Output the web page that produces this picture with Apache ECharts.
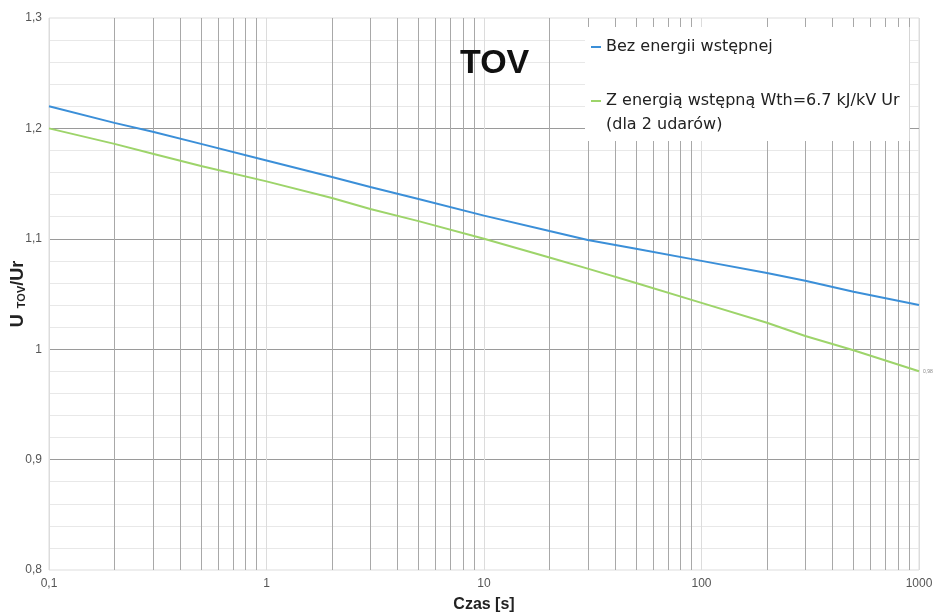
<!DOCTYPE html>
<html>
<head>
<meta charset="utf-8">
<script src="https://cdn.jsdelivr.net/npm/echarts@6/dist/echarts.min.js"></script>
<style>
  html, body { margin: 0; padding: 0; background: #fff; }
  #chart { width: 933px; height: 612px; }
</style>
</head>
<body>
<div id="chart"></div>
<script>
// czas [s]
const times = [0.1, 0.2, 0.3, 0.5, 1, 2, 3, 5, 10, 20, 30, 50, 100, 200, 300, 500, 1000];
// Bez energii wstępnej
const bezEnergii = [1.220, 1.205, 1.197, 1.186, 1.171, 1.156, 1.147, 1.136, 1.121, 1.107, 1.099, 1.091, 1.080, 1.069, 1.062, 1.052, 1.040];
// Z energią wstępną
const zEnergia = [1.200, 1.186, 1.177, 1.166, 1.152, 1.137, 1.127, 1.116, 1.100, 1.083, 1.073, 1.060, 1.042, 1.024, 1.012, 0.999, 0.980];
// pośrednie linie siatki na osi log
const minorTicks = [0.2, 0.3, 0.4, 0.5, 0.6, 0.7, 0.8, 0.9,
  2, 3, 4, 5, 6, 7, 8, 9,
  20, 30, 40, 50, 60, 70, 80, 90,
  200, 300, 400, 500, 600, 700, 800, 900];

const font = "'Liberation Sans', Arial, sans-serif";
const chart = echarts.init(document.getElementById('chart'));

function pairs(ys) {
  return times.map((t, i) => [t, ys[i]]);
}

chart.setOption({
  animation: false,
  textStyle: { fontFamily: font },
  title: {
    text: 'TOV',
    left: 455,
    top: 42,
    textStyle: { fontSize: 34, fontWeight: 'bold', color: '#111', fontFamily: font }
  },
  legend: {
    orient: 'vertical',
    left: 585,
    top: 27,
    backgroundColor: '#fff',
    padding: [8, 10, 4, 6],
    itemGap: 6,
    itemWidth: 10,
    itemHeight: 2,
    icon: 'rect',
    textStyle: { fontSize: 16, color: '#222', lineHeight: 24, fontFamily: "'DejaVu Sans', sans-serif" },
    formatter: function (name) {
      if (name.indexOf('Z energią') === 0) {
        return '\n' + name + '\n(dla 2 udarów)';
      }
      return name;
    },
    data: ['Bez energii wstępnej', 'Z energią wstępną Wth=6.7 kJ/kV Ur']
  },
  grid: {
    left: 49, right: 14, top: 18, bottom: 42,
    containLabel: false,
    outerBoundsMode: 'none',
    show: true, borderColor: '#ddd', borderWidth: 1
  },
  xAxis: {
    type: 'log',
    logBase: 10,
    min: 0.1,
    max: 1000,
    name: 'Czas [s]',
    nameLocation: 'middle',
    nameGap: 27,
    nameMoveOverlap: false,
    nameTextStyle: { fontSize: 16, fontWeight: 'bold', color: '#222' },
    axisLine: { show: false },
    axisTick: { show: false },
    axisLabel: {
      fontSize: 12, color: '#555', margin: 8,
      formatter: v => String(v).replace('.', ',')
    },
    splitLine: { show: true, lineStyle: { color: '#dcdcdc', width: 1 } }
  },
  yAxis: {
    type: 'value',
    min: 0.8,
    max: 1.3,
    interval: 0.1,
    name: '{u|U}{s|  TOV}{u|/Ur}',
    nameLocation: 'middle',
    nameRotate: 90,
    nameGap: 22,
    nameMoveOverlap: false,
    nameTextStyle: {
      rich: {
        u: { fontSize: 18, fontWeight: 'bold', color: '#222' },
        s: { fontSize: 11, fontWeight: 'bold', color: '#222', padding: [7, 0, 0, 0] }
      }
    },
    axisLine: { show: false },
    axisTick: { show: false },
    axisLabel: {
      fontSize: 12, color: '#555', margin: 7,
      formatter: v => String(Math.round(v * 10) / 10).replace('.', ',')
    },
    splitLine: { show: true, showMinLine: false, showMaxLine: false, lineStyle: { color: '#9a9a9a', width: 1 } },
    minorTick: { show: false, splitNumber: 5 },
    minorSplitLine: { show: true, lineStyle: { color: '#e8e8e8', width: 1 } }
  },
  series: [
    {
      name: 'Bez energii wstępnej',
      type: 'line',
      data: pairs(bezEnergii),
      showSymbol: false,
      symbol: 'none',
      z: 3,
      lineStyle: { color: '#3b8fd8', width: 2 },
      itemStyle: { color: '#3b8fd8' },
      markLine: {
        silent: true,
        z: 1,
        symbol: 'none',
        label: { show: false },
        lineStyle: { color: '#a8a8a8', type: 'solid', width: 1 },
        data: minorTicks.map(v => ({ xAxis: v }))
      }
    },
    {
      name: 'Z energią wstępną Wth=6.7 kJ/kV Ur',
      type: 'line',
      data: pairs(zEnergia),
      showSymbol: false,
      symbol: 'none',
      z: 3,
      lineStyle: { color: '#9dd46a', width: 2 },
      itemStyle: { color: '#9dd46a' },
      endLabel: {
        show: true,
        formatter: '0,98',
        fontSize: 5,
        color: '#888',
        distance: 4
      }
    }
  ]
});
</script>
</body>
</html>
